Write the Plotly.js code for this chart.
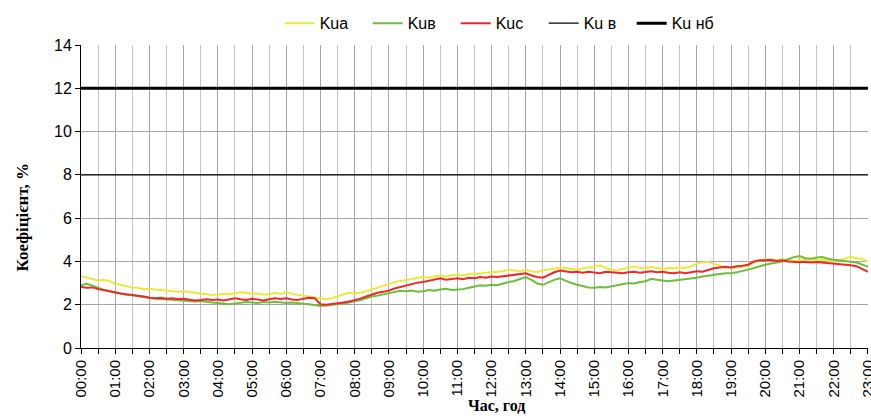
<!DOCTYPE html>
<html>
<head>
<meta charset="utf-8">
<script src="https://cdn.plot.ly/plotly-3.0.1.min.js"></script>
<style>html,body{margin:0;padding:0;background:#fff;}#chart{width:871px;height:416px;}</style>
</head>
<body>
<div id="chart"></div>
<script>
// 10-minute samples from 00:00 to 23:00
var startTime = '2000-01-01 00:00';
var stepMinutes = 10;

var kuA = [
3.32,3.25,3.18,3.12,3.15,3.10, 2.98,2.90,2.85,2.80,2.78,2.72,
2.74,2.70,2.68,2.66,2.63,2.60, 2.62,2.57,2.55,2.52,2.48,2.45,
2.47,2.50,2.48,2.52,2.58,2.55, 2.50,2.52,2.46,2.48,2.55,2.50,
2.60,2.50,2.45,2.42,2.38,2.33, 2.30,2.26,2.30,2.38,2.48,2.56,
2.50,2.55,2.62,2.70,2.78,2.85, 2.95,3.05,3.10,3.15,3.20,3.22,
3.28,3.25,3.32,3.35,3.30,3.36, 3.38,3.35,3.42,3.40,3.45,3.48,
3.50,3.52,3.55,3.62,3.58,3.55, 3.60,3.55,3.50,3.58,3.62,3.68,
3.72,3.70,3.65,3.62,3.68,3.70, 3.75,3.82,3.70,3.62,3.58,3.65,
3.72,3.78,3.70,3.68,3.74,3.70, 3.65,3.70,3.68,3.72,3.70,3.78,
3.90,3.95,3.97,3.90,3.80,3.72, 3.70,3.72,3.75,3.80,3.95,4.05,
4.10,4.08,4.05,4.10,4.06,4.02, 4.05,4.08,4.10,4.05,4.08,4.04,
4.00,4.05,4.12,4.22,4.15,4.12, 3.98];

var kuB = [
2.90,2.97,2.88,2.78,2.68,2.62, 2.56,2.50,2.46,2.44,2.40,2.36,
2.30,2.28,2.26,2.24,2.22,2.20, 2.18,2.16,2.15,2.17,2.12,2.10,
2.08,2.05,2.02,2.06,2.10,2.12, 2.10,2.08,2.12,2.10,2.14,2.10,
2.08,2.10,2.06,2.04,2.02,1.98, 1.94,1.96,1.98,2.02,2.05,2.10,
2.15,2.22,2.30,2.38,2.42,2.48, 2.52,2.58,2.64,2.62,2.66,2.60,
2.62,2.68,2.65,2.70,2.74,2.68, 2.70,2.72,2.78,2.85,2.90,2.88,
2.92,2.90,2.98,3.05,3.10,3.20, 3.28,3.15,2.98,2.92,3.05,3.15,
3.22,3.10,3.00,2.92,2.85,2.80, 2.78,2.82,2.80,2.85,2.90,2.95,
3.00,2.98,3.05,3.08,3.20,3.15, 3.10,3.08,3.12,3.15,3.18,3.20,
3.25,3.30,3.35,3.38,3.42,3.45, 3.45,3.50,3.55,3.62,3.70,3.78,
3.85,3.90,3.95,4.00,4.10,4.20, 4.25,4.15,4.12,4.18,4.20,4.12,
4.08,4.05,4.02,3.98,3.95,3.85, 3.75];

var kuC = [
2.82,2.78,2.80,2.72,2.68,2.62, 2.55,2.52,2.48,2.45,2.42,2.38,
2.32,2.30,2.32,2.28,2.30,2.26, 2.27,2.24,2.20,2.22,2.25,2.22,
2.24,2.20,2.26,2.30,2.25,2.22, 2.28,2.24,2.20,2.25,2.30,2.26,
2.30,2.24,2.22,2.28,2.32,2.30, 2.02,2.00,2.03,2.05,2.10,2.15,
2.20,2.28,2.38,2.48,2.55,2.60, 2.65,2.75,2.82,2.88,2.95,3.02,
3.05,3.10,3.18,3.22,3.15,3.20, 3.22,3.18,3.25,3.22,3.28,3.25,
3.30,3.28,3.32,3.36,3.38,3.42, 3.45,3.35,3.28,3.25,3.38,3.50,
3.58,3.55,3.50,3.52,3.48,3.52, 3.50,3.45,3.52,3.50,3.48,3.45,
3.50,3.52,3.48,3.50,3.55,3.50, 3.52,3.48,3.45,3.50,3.46,3.50,
3.55,3.52,3.60,3.68,3.72,3.75, 3.72,3.78,3.80,3.85,4.00,4.05,
4.05,4.08,4.02,4.05,4.00,3.98, 3.96,3.98,3.95,3.97,3.95,3.92,
3.90,3.88,3.85,3.82,3.78,3.65, 3.52];

var limitKuV = [8, 8];
var limitKuNb = [12, 12];

var seriesNames = ['Kua', 'Kuв', 'Kuc', 'Ku в', 'Ku нб'];
var yTitle = 'Коефіцієнт, %';
var xTitle = 'Час, год';

function pad(n){ return (n < 10 ? '0' : '') + n; }
var times = [];
for (var i = 0; i < kuA.length; i++) {
  var m = i * stepMinutes;
  times.push('2000-01-01 ' + pad(Math.floor(m / 60)) + ':' + pad(m % 60));
}
var xEnds = [times[0], times[times.length - 1]];

var traces = [
  {x: times, y: kuA, name: seriesNames[0], type: 'scatter', mode: 'lines', line: {color: '#eee83a', width: 2}},
  {x: times, y: kuB, name: seriesNames[1], type: 'scatter', mode: 'lines', line: {color: '#6cbf3c', width: 2}},
  {x: times, y: kuC, name: seriesNames[2], type: 'scatter', mode: 'lines', line: {color: '#f0282a', width: 2}},
  {x: xEnds, y: limitKuV, name: seriesNames[3], type: 'scatter', mode: 'lines', line: {color: '#000000', width: 1.3}},
  {x: xEnds, y: limitKuNb, name: seriesNames[4], type: 'scatter', mode: 'lines', line: {color: '#000000', width: 3}}
];

var layout = {
  width: 871, height: 416,
  margin: {l: 81, r: 3, t: 45, b: 68, autoexpand: false},
  paper_bgcolor: '#ffffff', plot_bgcolor: '#ffffff',
  font: {family: 'Liberation Sans, Arial, sans-serif', color: '#000000', size: 14},
  showlegend: true,
  legend: {orientation: 'h', x: 0.532, xanchor: 'center', yref: 'container', y: 0.985, yanchor: 'top',
           entrywidth: 43, entrywidthmode: 'pixels',
           font: {size: 16, family: 'Liberation Sans, Arial, sans-serif'}, tracegroupgap: 0},
  xaxis: {
    type: 'date',
    range: [startTime, '2000-01-01 23:00:05'],
    dtick: 3600000, tick0: startTime,
    tickformat: '%H:%M', tickangle: -90,
    tickfont: {size: 15}, ticklabeloverflow: 'allow',
    ticks: 'outside', ticklen: 5, tickcolor: '#000000',
    showgrid: true, gridcolor: '#a6a6a6', gridwidth: 1,
    minor: {dtick: 1800000, tick0: startTime, ticks: 'outside', ticklen: 5, tickcolor: '#000000', showgrid: true, gridcolor: '#c4c4c4', gridwidth: 1},
    showline: true, linecolor: '#000000', linewidth: 1,
    zeroline: false, fixedrange: true, automargin: false
  },
  yaxis: {
    range: [0, 14], dtick: 2, tick0: 0,
    tickfont: {size: 16},
    ticks: 'outside', ticklen: 5, tickcolor: '#000000',
    showgrid: true, gridcolor: '#a6a6a6', gridwidth: 1,
    showline: true, linecolor: '#000000', linewidth: 1,
    zeroline: false, fixedrange: true, automargin: false
  },
  annotations: [
    {text: '<b>' + yTitle + '</b>', xref: 'paper', yref: 'paper', x: -0.074, y: 0.43, xanchor: 'center', yanchor: 'middle',
     textangle: -90, showarrow: false, font: {family: 'Liberation Serif, Times New Roman, serif', size: 17, color: '#000'}},
    {text: '<b>' + xTitle + '</b>', xref: 'paper', yref: 'paper', x: 0.528, y: -0.19, xanchor: 'center', yanchor: 'middle',
     showarrow: false, font: {family: 'Liberation Serif, Times New Roman, serif', size: 16, color: '#000'}}
  ]
};

Plotly.newPlot('chart', traces, layout, {staticPlot: true, displayModeBar: false});
</script>
</body>
</html>
